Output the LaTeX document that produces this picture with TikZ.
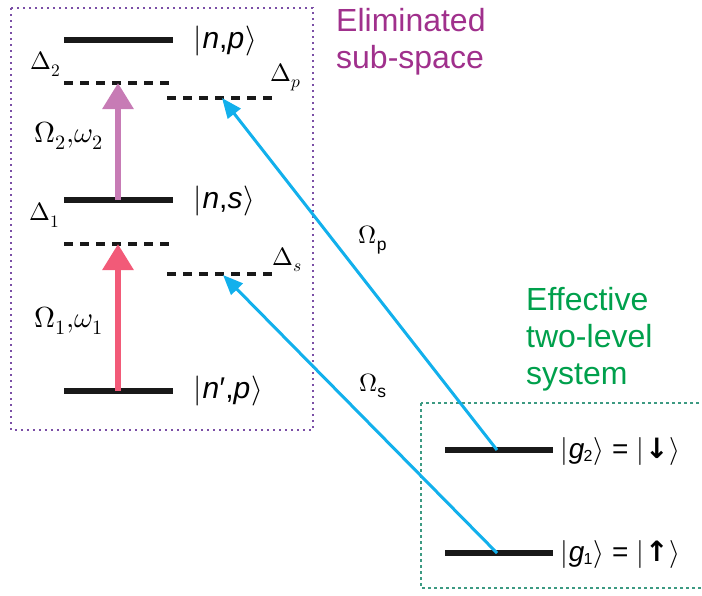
\documentclass[tikz,border=0pt]{standalone}
\usepackage{unicode-math}
\setmainfont{Liberation Sans}
\setmathfont{Latin Modern Math}
\newfontfamily\dejavu{DejaVu Sans}
\usetikzlibrary{arrows.meta}
\definecolor{boxpurple}{HTML}{7B4FA6}
\definecolor{boxgreen}{HTML}{3C9A82}
\definecolor{txtpurple}{HTML}{A0308C}
\definecolor{txtgreen}{HTML}{00A04C}
\definecolor{pinkarrow}{HTML}{F25A78}
\definecolor{mauvearrow}{HTML}{C77BB5}
\definecolor{bluearrow}{HTML}{12B0EC}
\newcommand{\kt}[1]{$|$\kern1pt#1\kern1pt$\rangle$}
\begin{document}
\begin{tikzpicture}[x=1pt,y=-1pt,
  level/.style={line width=5.5pt,black!90},
  dlevel/.style={line width=3.5pt,black!90,dash pattern=on 9pt off 7pt},
  lab/.style={font=\fontsize{25}{27}\selectfont,inner sep=0pt},
  omlab/.style={font=\fontsize{29}{31}\selectfont,inner sep=0pt},
  ket/.style={font=\fontsize{30}{32}\selectfont,inner sep=0pt,anchor=west},
  big/.style={font=\fontsize{32}{37}\selectfont,inner sep=0pt,align=left,anchor=north west},
  pumparrow/.style={line width=6pt,-{Triangle[width=30pt,length=26pt]}},
  probe/.style={line width=3pt,bluearrow,-{Triangle[width=16pt,length=20pt]}}]
\useasboundingbox (0,0) rectangle (702,595);
% boxes
\draw[boxpurple,line width=1.6pt,dash pattern=on 2pt off 4pt] (11,8) rectangle (313,430);
\draw[boxgreen,line width=1.4pt,dash pattern=on 3pt off 3pt] (421,403) rectangle (705,588);
% coordinates
\coordinate (np1) at (64,40);  \coordinate (np2) at (173,40);
\coordinate (d21) at (64,83);  \coordinate (d22) at (173,83);
\coordinate (dp1) at (167,98); \coordinate (dp2) at (276,98);
\coordinate (ns1) at (64,200); \coordinate (ns2) at (173,200);
\coordinate (d11) at (64,244); \coordinate (d12) at (173,244);
\coordinate (ds1) at (167,274);\coordinate (ds2) at (276,274);
\coordinate (nq1) at (64,391); \coordinate (nq2) at (173,391);
\coordinate (g21) at (445,450);\coordinate (g22) at (553,450);
\coordinate (g11) at (445,553);\coordinate (g12) at (553,553);
\coordinate (pumpbot) at (118,391); \coordinate (pumptop) at (118,244);
\coordinate (cbot) at (118,200); \coordinate (ctop) at (118,83);
\coordinate (pfoot) at (497,450); \coordinate (ptip) at (222,98);
\coordinate (sfoot) at (497,553); \coordinate (stip) at (223,275);
% levels
\draw[level] (np1) -- (np2);
\draw[level] (ns1) -- (ns2);
\draw[level] (nq1) -- (nq2);
\draw[level] (g21) -- (g22);
\draw[level] (g11) -- (g12);
\draw[dlevel] (d21) -- (d22);
\draw[dlevel] (dp1) -- (dp2);
\draw[dlevel] (d11) -- (d12);
\draw[dlevel] (ds1) -- (ds2);
% arrows
\draw[pumparrow,pinkarrow] (pumpbot) -- (pumptop);
\draw[pumparrow,mauvearrow] (cbot) -- (ctop);
\draw[probe] (pfoot) -- (ptip);
\draw[probe] (sfoot) -- (stip);
% labels
\node[ket] (knp) at (193,41) {\kt{\textit{n},\textit{p}}};
\node[ket] (kns) at (193,201) {\kt{\textit{n},\textit{s}}};
\node[ket] (knq) at (193,391) {\kt{\textit{n}\kern0.5pt′,\textit{p}}};
\node[lab] (D2) at (46,64) {$\Delta_2$};
\node[lab] (Dp) at (286,77) {$\Delta_{p}$};
\node[omlab] (O2) at (69,136) {$\Omega_2{,}\omega_2$};
\node[lab] (D1) at (45,215) {$\Delta_1$};
\node[lab] (Ds) at (287,260) {$\Delta_{s}$};
\node[omlab] (O1) at (69,321) {$\Omega_1{,}\omega_1$};
\node[lab] (Op) at (373,240) {$\Omega_{\mathrm{p}}$};
\node[lab] (Os) at (373,386) {$\Omega_{\mathrm{s}}$};
\node[big,txtpurple] (elim) at (336,8) {Eliminated\\sub-space};
\node[big,txtgreen] (eff) at (526,287) {Effective\\two-level\\system};
\node[ket,font=\fontsize{28}{30}\selectfont] (kg2) at (560,451) {\kt{\textit{g}\kern-1pt{\fontsize{16}{16}\selectfont\raisebox{-3pt}{2}}} = \kt{\dejavu\bfseries↓}};
\node[ket,font=\fontsize{28}{30}\selectfont] (kg1) at (560,554) {\kt{\textit{g}\kern-1pt{\fontsize{16}{16}\selectfont\raisebox{-3pt}{1}}} = \kt{\dejavu\bfseries↑}};
\end{tikzpicture}
\end{document}
